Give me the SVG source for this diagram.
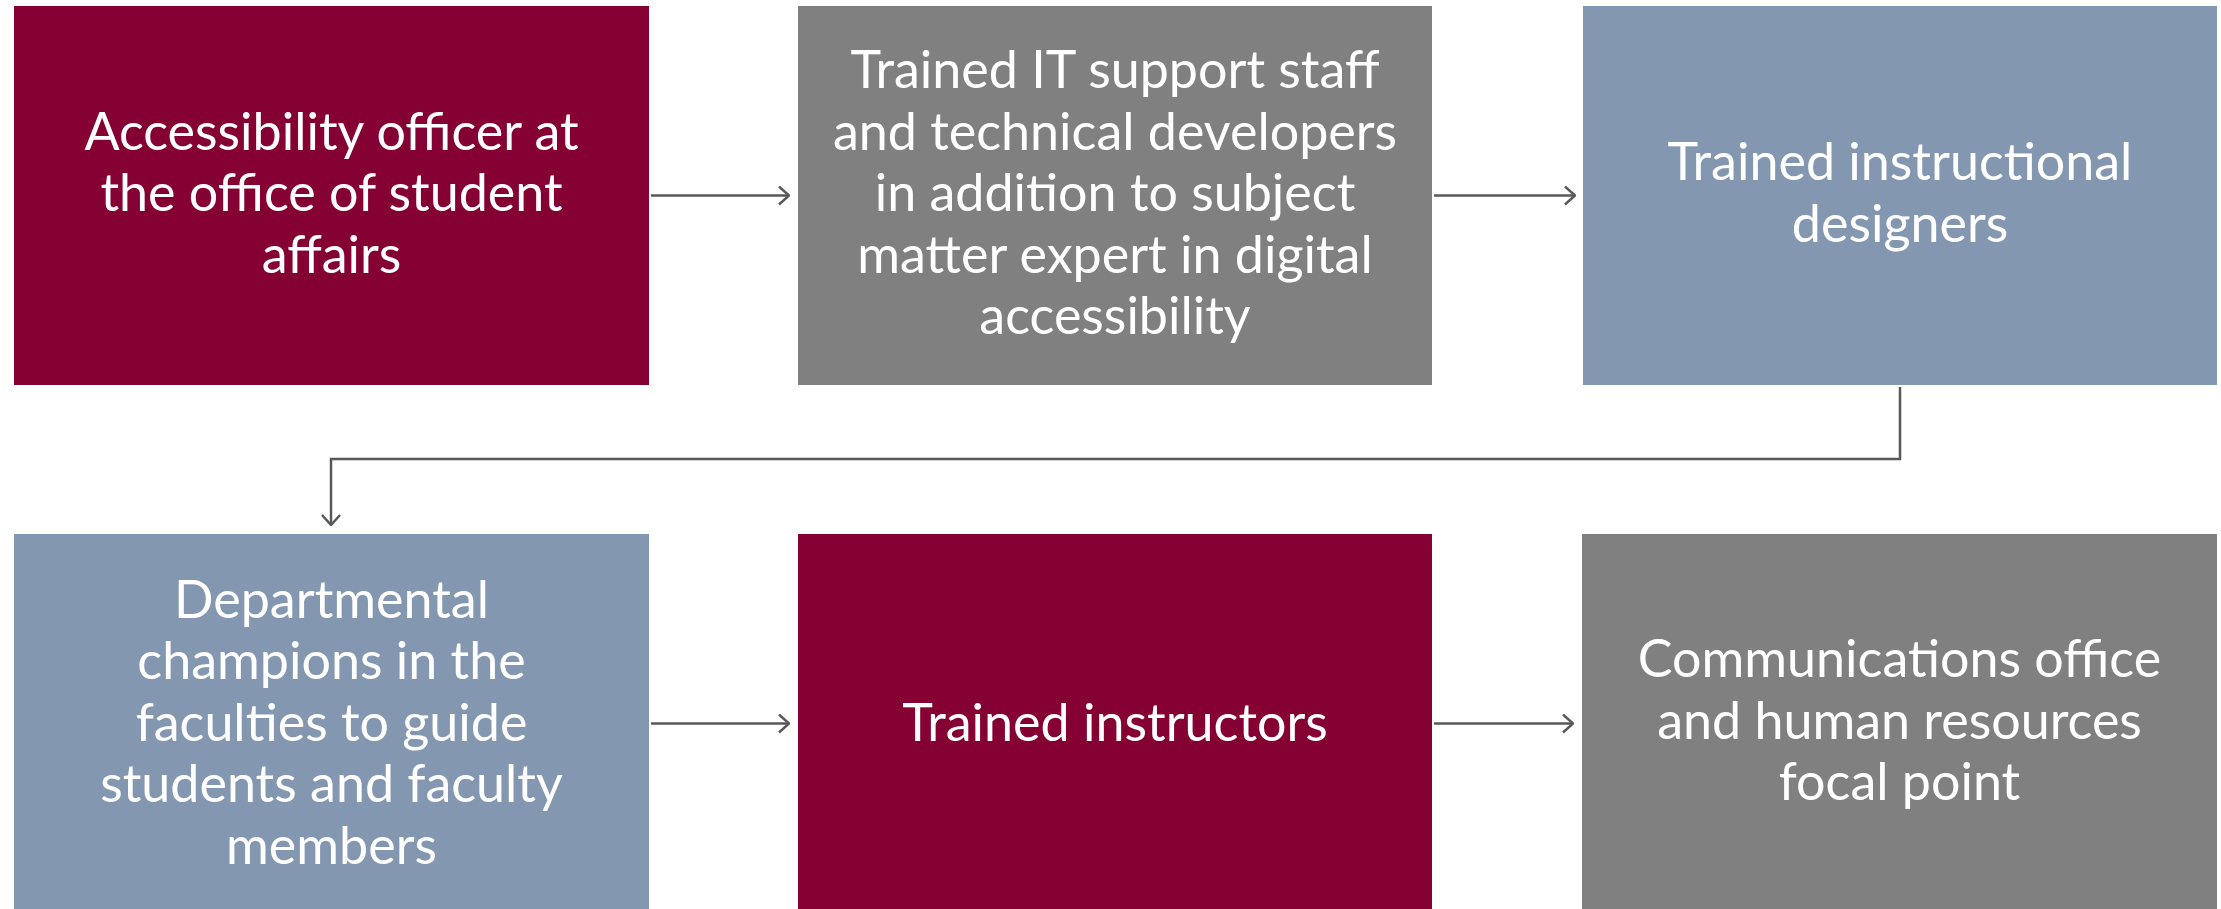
<svg xmlns="http://www.w3.org/2000/svg" width="2221" height="909" viewBox="0 0 2221 909">
<defs>
<style>
.box text{font-family:Lato,"Liberation Sans",sans-serif;font-size:52px;fill:#ffffff;text-anchor:middle}
.maroon{fill:#850033}
.gray{fill:#808080}
.blue{fill:#8497B0}
.conn{fill:none;stroke:#595959;stroke-width:2.5}
</style>
<marker id="arr" viewBox="0 0 12 20" refX="11" refY="10" markerWidth="12" markerHeight="20" markerUnits="userSpaceOnUse" orient="auto">
<path d="M1,1 L11,10 L1,19" fill="none" stroke="#595959" stroke-width="2.5"/>
</marker>
</defs>
<rect width="2221" height="909" fill="#ffffff"/>
<g id="connectors">
<line class="conn" x1="651" y1="195.5" x2="789" y2="195.5" marker-end="url(#arr)"/>
<line class="conn" x1="1434" y1="195.5" x2="1575" y2="195.5" marker-end="url(#arr)"/>
<polyline class="conn" points="1900,387 1900,459 331,459 331,525" marker-end="url(#arr)"/>
<line class="conn" x1="651" y1="723.5" x2="789" y2="723.5" marker-end="url(#arr)"/>
<line class="conn" x1="1434" y1="723.5" x2="1573" y2="723.5" marker-end="url(#arr)"/>
</g>
<g id="n1" class="box">
<rect class="maroon" x="14" y="6" width="635" height="379"/>
<text x="331.5" y="149.5">Accessibility officer at</text>
<text x="331.5" y="211">the office of student</text>
<text x="331.5" y="272.5">affairs</text>
</g>
<g id="n2" class="box">
<rect class="gray" x="798" y="6" width="634" height="379"/>
<text x="1115" y="88">Trained IT support staff</text>
<text x="1115" y="149.5">and technical developers</text>
<text x="1115" y="211">in addition to subject</text>
<text x="1115" y="272.5">matter expert in digital</text>
<text x="1115" y="334">accessibility</text>
</g>
<g id="n3" class="box">
<rect class="blue" x="1583" y="6" width="634" height="379"/>
<text x="1900" y="180.25">Trained instructional</text>
<text x="1900" y="241.75">designers</text>
</g>
<g id="n4" class="box">
<rect class="blue" x="14" y="534" width="635" height="379"/>
<text x="331.5" y="617.5">Departmental</text>
<text x="331.5" y="679">champions in the</text>
<text x="331.5" y="740.5">faculties to guide</text>
<text x="331.5" y="802">students and faculty</text>
<text x="331.5" y="863.5">members</text>
</g>
<g id="n5" class="box">
<rect class="maroon" x="798" y="534" width="634" height="379"/>
<text x="1115" y="740.5">Trained instructors</text>
</g>
<g id="n6" class="box">
<rect class="gray" x="1582" y="534" width="635" height="379"/>
<text x="1899.5" y="677">Communications office</text>
<text x="1899.5" y="738.5">and human resources</text>
<text x="1899.5" y="800">focal point</text>
</g>
</svg>
